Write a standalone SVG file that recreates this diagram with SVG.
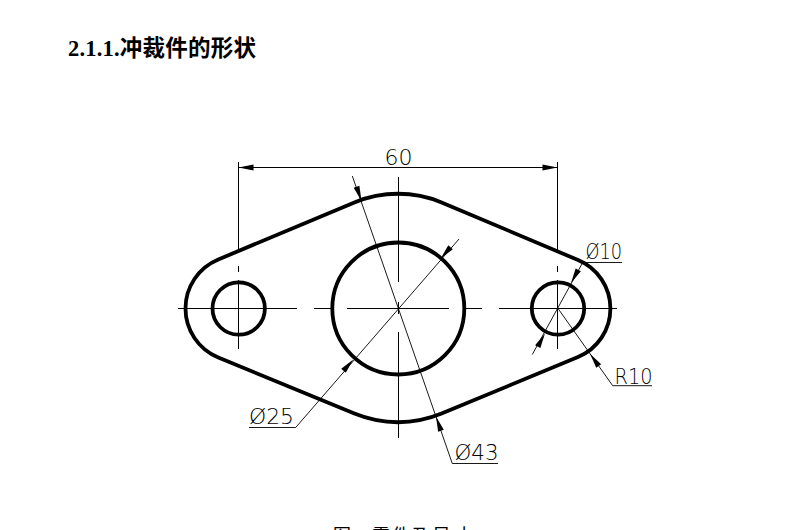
<svg xmlns="http://www.w3.org/2000/svg" width="800" height="530" viewBox="0 0 800 530">
<defs><path id="ah" d="M0 0L-15 -3L-15 3Z" fill="#000"/></defs>
<style>
.thin{fill:none;stroke:#000;stroke-width:1}
.fine{fill:none;stroke:#000;stroke-width:.9}
.thick{fill:none;stroke:#000;stroke-width:3.8}
.dim{font-family:"DejaVu Sans ExtraLight","DejaVu Sans",sans-serif;font-weight:200;font-size:22px;fill:#000}
</style>
<rect width="800" height="530" fill="#fff"/>
<text x="68" y="56" font-family="'Liberation Serif','Noto Sans CJK SC',serif" font-weight="700" font-size="22.5" textLength="188" fill="#000">2.1.1.冲裁件的形状</text>
<g id="outline"><path class="thick" d="M218.300 259.500L354.400 202.400A114.500 114.500 0 0 1 441.600 202.400L578 260A52.500 52.500 0 0 1 578 357L441.600 413.600A114.500 114.500 0 0 1 354.400 413.600L218.300 357.500A53 53 0 0 1 218.300 259.500Z"/></g>
<g id="hole-left"><circle class="thick" cx="238.700" cy="308.500" r="26.200"/></g>
<g id="hole-center"><circle class="thick" cx="398.300" cy="308.500" r="66"/></g>
<g id="hole-right"><circle class="thick" cx="558" cy="308.500" r="26.200"/></g>
<g id="connectors">
<path class="thin" d="M178 308.500H297M314 308.500H331M347 308.500H449M466 308.500H482M499 308.500H617"/>
<path class="thin" d="M238.500 162V252M238.500 266V272M238.500 280V349M398.500 177V282M398.500 302V314M398.500 332V438M557.500 162V252M557.500 266V272M557.500 280V349"/>
<path class="thin" d="M238 167.500H558"/>
<use href="#ah" transform="translate(238.500 167.500) rotate(180)"/>
<use href="#ah" transform="translate(557.500 167.500)"/>
<path class="fine" d="M352.300 176L452.300 463.500H498"/>
<use href="#ah" transform="translate(361.500 201) rotate(70.700)"/>
<use href="#ah" transform="translate(436 416.500) rotate(250.700)"/>
<path class="fine" d="M459 239L295.700 427.500H249"/>
<use href="#ah" transform="translate(440.700 258.500) rotate(131)"/>
<use href="#ah" transform="translate(353.300 359.500) rotate(-49)"/>
<path class="fine" d="M583 262L532.300 354.500"/>
<path class="fine" d="M583 262.500H622"/>
<use href="#ah" transform="translate(571 283) rotate(119)"/>
<use href="#ah" transform="translate(545 333.500) rotate(-61)"/>
<path class="fine" d="M558 308.500L612.700 385.700H652"/>
<use href="#ah" transform="translate(590 353.700) rotate(234.600)"/>
</g>
<g id="labels">
<text class="dim" x="384.500" y="165" textLength="28" lengthAdjust="spacingAndGlyphs">60</text>
<text class="dim" x="585.500" y="258.500" textLength="36.500" lengthAdjust="spacingAndGlyphs">Ø10</text>
<text class="dim" x="614.500" y="383.500" textLength="38" lengthAdjust="spacingAndGlyphs">R10</text>
<text class="dim" x="249" y="423.500" textLength="45" lengthAdjust="spacingAndGlyphs">Ø25</text>
<text class="dim" x="454.500" y="459.500" textLength="44" lengthAdjust="spacingAndGlyphs">Ø43</text>
</g>
<text y="542" font-family="'Noto Sans CJK SC',sans-serif" font-size="18" fill="#000" x="333 372 392 412 432 452">图零件及尺寸</text>
</svg>
